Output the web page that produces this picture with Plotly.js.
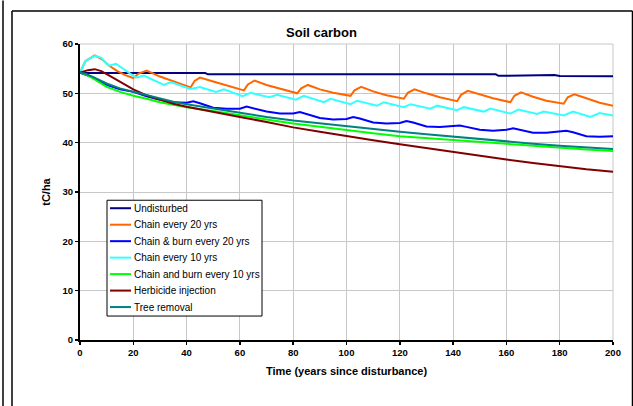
<!DOCTYPE html>
<html>
<head>
<meta charset="utf-8">
<script src="https://cdn.plot.ly/plotly-3.0.1.min.js"></script>
<style>
  html, body { margin: 0; padding: 0; background: #ffffff; }
  #chart { width: 633px; height: 406px; }
</style>
</head>
<body>
<div id="chart"></div>
<script>
// ---- Data ----
const seriesNames = [
  "Undisturbed",
  "Chain every 20 yrs",
  "Chain & burn every 20 yrs",
  "Chain every 10 yrs",
  "Chain and burn every 10 yrs",
  "Herbicide injection",
  "Tree removal"
];

const undisturbedYears = [0, 47, 48, 156, 157, 176, 178, 180, 200];
const undisturbedC     = [54.1, 54.1, 53.85, 53.85, 53.55, 53.55, 53.7, 53.5, 53.45];

const chain20Years = [0, 2, 5.5, 8, 11, 14, 17, 20, 22, 25, 30, 35, 40, 41.5, 43, 45, 50, 55, 61.5, 63, 65.5, 70, 75, 81.5, 83, 85.5, 90, 95, 101.5, 103, 105.5, 110, 115, 121.5, 123, 125.5, 130, 135, 141.5, 143, 145.5, 150, 155, 161.5, 163, 165.5, 170, 175, 181.5, 183, 185.5, 190, 195, 200];
const chain20C     = [54.2, 56.5, 57.7, 57.0, 55.6, 54.5, 53.7, 53.1, 54.0, 54.6, 53.4, 52.5, 51.5, 51.2, 52.5, 53.2, 52.4, 51.6, 50.6, 51.8, 52.6, 51.7, 50.9, 50.0, 51.0, 51.7, 50.8, 50.1, 49.5, 50.6, 51.3, 50.4, 49.6, 48.9, 50.1, 50.8, 50.0, 49.2, 48.4, 49.7, 50.5, 49.8, 49.0, 48.2, 49.5, 50.2, 49.3, 48.5, 47.9, 49.2, 49.8, 49.0, 48.1, 47.5];

const chainBurn20Years = [0, 5, 10, 15, 20, 25, 30, 35, 40, 42.5, 45, 50, 55, 60, 62.5, 65, 70, 75, 80, 82.5, 85, 90, 95, 100, 102.5, 105, 110, 115, 120, 122.5, 125, 130, 135, 140, 142.5, 145, 150, 155, 160, 162.5, 165, 170, 175, 180, 182.5, 185, 190, 195, 200];
const chainBurn20C     = [54.2, 53.2, 51.7, 50.8, 50.3, 49.4, 48.7, 48.2, 48.1, 48.4, 48.0, 47.1, 46.9, 46.9, 47.3, 47.0, 46.3, 45.9, 45.9, 46.2, 45.8, 45.0, 44.7, 44.8, 45.2, 44.9, 44.1, 43.9, 44.0, 44.4, 44.1, 43.3, 43.2, 43.3, 43.5, 43.2, 42.6, 42.4, 42.6, 42.9, 42.6, 42.0, 42.0, 42.2, 42.4, 42.1, 41.3, 41.2, 41.3];

const chain10Years = [0, 2, 5.5, 8, 10, 11, 13.5, 21, 24, 31.5, 34, 41.5, 45, 51, 54, 61, 64, 71, 74, 81, 84, 91.5, 94, 101.5, 104, 111.5, 114, 121.5, 124, 131.5, 134, 141.5, 144, 151.5, 154, 161.5, 164.5, 171.5, 174, 181.5, 185, 191.5, 195, 200];
const chain10C     = [54.2, 56.5, 57.6, 57.2, 56.0, 55.6, 56.0, 53.2, 53.6, 51.7, 52.3, 50.9, 51.3, 50.3, 50.8, 49.4, 50.1, 49.2, 49.7, 48.7, 49.5, 48.2, 48.9, 47.8, 48.5, 47.5, 48.2, 47.2, 47.8, 46.9, 47.5, 46.6, 47.2, 46.3, 46.9, 45.9, 46.7, 45.8, 46.3, 45.5, 46.3, 45.2, 46.0, 45.5];

const chainBurn10Years = [0, 2, 5, 10, 15, 20, 25, 30, 35, 40, 50, 60, 70, 80, 90, 100, 110, 120, 130, 140, 150, 160, 170, 180, 190, 200];
const chainBurn10C     = [54.2, 53.9, 53.0, 51.3, 50.3, 49.5, 48.9, 48.2, 47.7, 47.2, 46.4, 45.5, 44.7, 43.9, 43.2, 42.5, 41.9, 41.3, 40.9, 40.6, 40.2, 39.7, 39.3, 38.9, 38.6, 38.3];

const herbicideYears = [0, 3, 5.5, 8, 12, 16, 20, 25, 30, 35, 40, 50, 60, 70, 80, 90, 100, 110, 120, 130, 140, 150, 160, 170, 180, 190, 200];
const herbicideC     = [54.2, 54.7, 54.9, 54.5, 53.3, 52.0, 50.8, 49.6, 48.7, 47.9, 47.3, 46.2, 45.2, 44.2, 43.1, 42.2, 41.3, 40.5, 39.7, 38.9, 38.1, 37.3, 36.6, 35.9, 35.2, 34.6, 34.1];

const treeRemovalYears = [0, 2, 5, 10, 15, 20, 25, 30, 35, 40, 50, 60, 70, 80, 90, 100, 110, 120, 130, 140, 150, 160, 170, 180, 190, 200];
const treeRemovalC     = [54.2, 54.0, 53.3, 52.0, 51.0, 50.3, 49.6, 48.9, 48.3, 47.8, 46.9, 46.0, 45.2, 44.5, 43.9, 43.3, 42.7, 42.2, 41.7, 41.2, 40.7, 40.2, 39.8, 39.4, 39.0, 38.7];

const xTickVals = [0, 20, 40, 60, 80, 100, 120, 140, 160, 180, 200];
const yTickVals = [0, 10, 20, 30, 40, 50, 60];

const seriesColors = ["#000080", "#FF6600", "#0000FF", "#33FFFF", "#00FF00", "#800000", "#008080"];

// ---- Build traces ----
const xs = [undisturbedYears, chain20Years, chainBurn20Years, chain10Years, chainBurn10Years, herbicideYears, treeRemovalYears];
const ys = [undisturbedC, chain20C, chainBurn20C, chain10C, chainBurn10C, herbicideC, treeRemovalC];

const traces = seriesNames.map((name, i) => ({
  type: "scatter",
  mode: "lines",
  name: name,
  x: xs[i],
  y: ys[i],
  line: { color: seriesColors[i], width: 2 },
  hoverinfo: "skip",
  showlegend: false
}));

// plot area in pixels: x 80..613, y 43.5..340
const L = 80, R = 613, T = 43.5, B = 340, W = 633, H = 406;
const px = v => (v - L) / (R - L);
const py = v => (B - v) / (B - T);
const FONT = "Liberation Sans, Arial, sans-serif";

// Legend box (Excel-style, compact)
const legLeft = 107, legRight = 262, legTop = 200, legBottom = 316;
const legFirstY = 208, legStep = 16.5;

const shapes = [
  // gray frame of the plot area top & right
  { type: "line", xref: "paper", yref: "paper", x0: 0, x1: 1, y0: 1, y1: 1, line: { color: "#c8c8c8", width: 1 }, layer: "below" },
  { type: "line", xref: "paper", yref: "paper", x0: 1, x1: 1, y0: 0, y1: 1, line: { color: "#c8c8c8", width: 1 }, layer: "below" },
  // outer chart frame
  { type: "line", xref: "paper", yref: "paper", x0: px(3), x1: px(3), y0: py(0), y1: py(406), line: { color: "#000000", width: 1.5 } },
  { type: "line", xref: "paper", yref: "paper", x0: px(12), x1: px(12), y0: py(10.5), y1: py(406), line: { color: "#000000", width: 1.5 } },
  { type: "line", xref: "paper", yref: "paper", x0: px(12), x1: px(632.5), y0: py(10.5), y1: py(10.5), line: { color: "#000000", width: 1.5 } },
  { type: "line", xref: "paper", yref: "paper", x0: px(632.5), x1: px(632.5), y0: py(10.5), y1: py(406), line: { color: "#000000", width: 1.5 } },
  // legend box
  { type: "rect", xref: "paper", yref: "paper", x0: px(legLeft), x1: px(legRight), y0: py(legBottom), y1: py(legTop),
    fillcolor: "#ffffff", line: { color: "#000000", width: 1 }, layer: "above" }
];
const annotations = [];
seriesNames.forEach((name, i) => {
  const yy = py(legFirstY + legStep * i);
  shapes.push({ type: "line", xref: "paper", yref: "paper", x0: px(110), x1: px(131), y0: yy, y1: yy,
    line: { color: seriesColors[i], width: 2 }, layer: "above" });
  annotations.push({ xref: "paper", yref: "paper", x: px(132), y: yy, xanchor: "left", yanchor: "middle",
    text: name, showarrow: false, font: { size: 10, family: FONT, color: "#000000" } });
});

const layout = {
  width: W,
  height: H,
  margin: { l: L, r: W - R, t: T, b: H - B, pad: 0 },
  paper_bgcolor: "#ffffff",
  plot_bgcolor: "#ffffff",
  font: { family: FONT, color: "#000000" },
  showlegend: false,
  title: {
    text: "<b>Soil carbon</b>",
    font: { size: 13, family: FONT, color: "#000000" },
    xref: "container", x: 321.5 / W, xanchor: "center",
    yref: "container", y: 1 - 32 / H, yanchor: "middle"
  },
  xaxis: {
    range: [0, 200],
    tickmode: "array",
    tickvals: xTickVals,
    ticktext: xTickVals.map(String),
    ticks: "outside", ticklen: 3, tickwidth: 1.5, tickcolor: "#000000",
    showline: true, linecolor: "#000000", linewidth: 2,
    showgrid: true, gridcolor: "#c8c8c8", gridwidth: 1,
    zeroline: false,
    tickfont: { size: 9.5, family: FONT, weight: "bold" },
    title: {
      text: "<b>Time (years since disturbance)</b>",
      font: { size: 11, family: FONT },
      standoff: 10
    },
    fixedrange: true
  },
  yaxis: {
    range: [0, 60],
    tickmode: "array",
    tickvals: yTickVals,
    ticktext: yTickVals.map(String),
    ticks: "outside", ticklen: 3, tickwidth: 1.5, tickcolor: "#000000",
    showline: true, linecolor: "#000000", linewidth: 2,
    showgrid: true, gridcolor: "#c8c8c8", gridwidth: 1,
    zeroline: false,
    tickfont: { size: 9.5, family: FONT, weight: "bold" },
    title: {
      text: "<b>tC/ha</b>",
      font: { size: 11, family: FONT },
      standoff: 10
    },
    fixedrange: true
  },
  shapes: shapes,
  annotations: annotations
};

Plotly.newPlot("chart", traces, layout, { staticPlot: true, displayModeBar: false });
</script>
</body>
</html>
